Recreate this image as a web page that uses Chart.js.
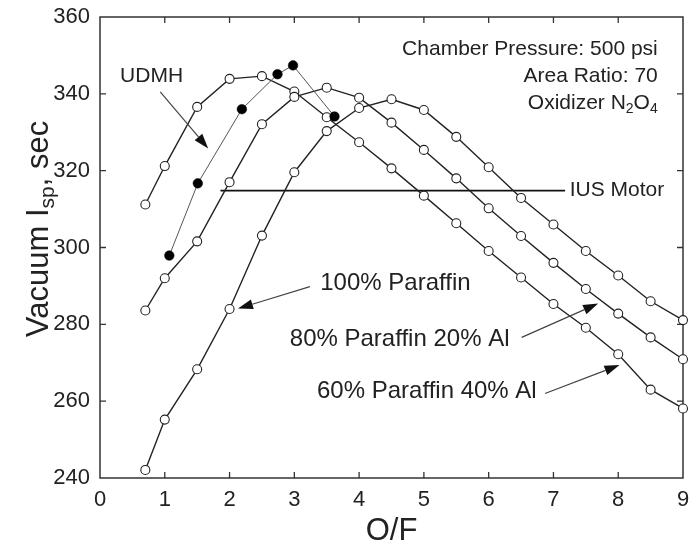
<!DOCTYPE html>
<html>
<head>
<meta charset="utf-8">
<script src="https://cdn.jsdelivr.net/npm/chart.js@4.4.1/dist/chart.umd.min.js"></script>
<style>
  html, body { margin: 0; padding: 0; background: #fff; }
  #wrap { width: 689px; height: 545px; }
</style>
</head>
<body>
<div id="wrap"><canvas id="c" width="689" height="545"></canvas></div>
<script>
// ---------------- data ----------------
const ofParaffin = [0.7, 1, 1.5, 2, 2.5, 3, 3.5, 4, 4.5, 5, 5.5, 6, 6.5, 7, 7.5, 8, 8.5, 9];
const isp100Paraffin = [242.1, 255.2, 268.3, 284.0, 303.1, 319.6, 330.3, 336.3, 338.6, 335.8, 328.8, 320.9, 312.9, 306.0, 299.1, 292.7, 286.0, 281.1];
const isp80Paraffin20Al = [283.6, 292.0, 301.6, 317.0, 332.1, 339.2, 341.6, 339.0, 332.5, 325.4, 318.0, 310.2, 303.0, 296.0, 289.2, 282.8, 276.6, 270.9];
const isp60Paraffin40Al = [311.2, 321.2, 336.6, 343.9, 344.6, 340.6, 333.9, 327.4, 320.6, 313.5, 306.3, 299.1, 292.2, 285.3, 279.1, 272.2, 263.0, 258.1];
const ofUDMH = [1.07, 1.51, 2.19, 2.74, 2.98, 3.62];
const ispUDMH = [297.9, 316.7, 336.0, 345.1, 347.4, 334.1];
const iusMotorIsp = 314.8;
const iusMotorRange = [1.86, 7.18];
const xTicks = [0, 1, 2, 3, 4, 5, 6, 7, 8, 9];
const yTicks = [240, 260, 280, 300, 320, 340, 360];

const FONT = "'Liberation Sans', Arial, Helvetica, sans-serif";
const INK = '#222';

function pts(xs, ys) { return xs.map((x, i) => ({ x: x, y: ys[i] })); }

const openPoint = {
  pointRadius: 4.5, pointBackgroundColor: '#fff', pointBorderColor: INK, pointBorderWidth: 1.1,
  borderColor: INK, borderWidth: 1.4, tension: 0, fill: false, clip: false
};

// ---------------- decoration plugin ----------------
function arrow(ctx, x1, y1, x2, y2) {
  const ang = Math.atan2(y2 - y1, x2 - x1);
  const L = 15, W = 5;
  const bx = x2 - L * Math.cos(ang), by = y2 - L * Math.sin(ang);
  ctx.save();
  ctx.strokeStyle = '#444'; ctx.lineWidth = 1.2;
  ctx.beginPath(); ctx.moveTo(x1, y1); ctx.lineTo(bx, by); ctx.stroke();
  ctx.fillStyle = '#111';
  ctx.beginPath();
  ctx.moveTo(x2, y2);
  ctx.lineTo(bx + W * Math.sin(ang), by - W * Math.cos(ang));
  ctx.lineTo(bx - W * Math.sin(ang), by + W * Math.cos(ang));
  ctx.closePath(); ctx.fill();
  ctx.restore();
}

const frame = {
  id: 'frame',
  beforeDatasetsDraw(chart) {
    const { ctx, chartArea: a, scales: { x, y } } = chart;
    ctx.save();
    ctx.strokeStyle = '#333'; ctx.lineWidth = 1.5;
    ctx.strokeRect(a.left, a.top, a.right - a.left, a.bottom - a.top);
    ctx.lineWidth = 1.3;
    const tl = 6;
    ctx.beginPath();
    xTicks.slice(1, -1).forEach(v => {
      const px = x.getPixelForValue(v);
      ctx.moveTo(px, a.bottom); ctx.lineTo(px, a.bottom - tl);
      ctx.moveTo(px, a.top); ctx.lineTo(px, a.top + tl);
    });
    yTicks.slice(1, -1).forEach(v => {
      const py = y.getPixelForValue(v);
      ctx.moveTo(a.left, py); ctx.lineTo(a.left + tl, py);
      ctx.moveTo(a.right, py); ctx.lineTo(a.right - tl, py);
    });
    ctx.stroke();
    ctx.restore();
  },
  afterDraw(chart) {
    const { ctx, scales: { x, y } } = chart;
    const X = v => x.getPixelForValue(v), Y = v => y.getPixelForValue(v);
    ctx.save();
    ctx.fillStyle = INK;
    ctx.textBaseline = 'middle';

    // top-right notes
    ctx.font = `21px ${FONT}`;
    ctx.textAlign = 'right';
    ctx.fillText('Chamber Pressure: 500 psi', X(8.61), Y(351.7));
    ctx.fillText('Area Ratio: 70', X(8.61), Y(344.6));
    // Oxidizer N2O4 with subscripts
    {
      const rx = X(8.61), cy = Y(337.6);
      ctx.textAlign = 'left';
      const parts = [['Oxidizer N', 21, 0], ['2', 14, 6], ['O', 21, 0], ['4', 14, 6]];
      let w = 0;
      parts.forEach(p => { ctx.font = `${p[1]}px ${FONT}`; w += ctx.measureText(p[0]).width; });
      let cx = rx - w;
      parts.forEach(p => { ctx.font = `${p[1]}px ${FONT}`; ctx.fillText(p[0], cx, cy + p[2]); cx += ctx.measureText(p[0]).width; });
    }

    // UDMH
    ctx.textAlign = 'left';
    ctx.font = `21px ${FONT}`;
    ctx.fillText('UDMH', X(0.31), Y(344.6));
    arrow(ctx, X(0.93), Y(340.5), X(1.67), Y(325.8));

    // IUS Motor
    ctx.fillText('IUS Motor', X(7.25), Y(iusMotorIsp));

    // paraffin labels
    ctx.font = `24px ${FONT}`;
    ctx.fillText('100% Paraffin', X(3.40), Y(290.7));
    arrow(ctx, X(3.24), Y(289.8), X(2.13), Y(284.1));
    ctx.fillText('80% Paraffin 20% Al', X(2.93), Y(276.0));
    arrow(ctx, X(6.51), Y(276.6), X(7.69), Y(285.4));
    ctx.fillText('60% Paraffin 40% Al', X(3.35), Y(262.5));
    arrow(ctx, X(6.87), Y(262.0), X(8.02), Y(269.4));

    // x title
    ctx.textAlign = 'center';
    ctx.font = `31px ${FONT}`;
    ctx.fillText('O/F', (x.left + x.right) / 2, 531);

    // y title with subscript
    ctx.save();
    ctx.translate(39, 229);
    ctx.rotate(-Math.PI / 2);
    const yp = [['Vacuum I', 31, 0], ['sp', 21, 9], [', sec', 31, 0]];
    let tw = 0;
    yp.forEach(p => { ctx.font = `${p[1]}px ${FONT}`; tw += ctx.measureText(p[0]).width; });
    let sx = -tw / 2;
    ctx.textAlign = 'left';
    yp.forEach(p => { ctx.font = `${p[1]}px ${FONT}`; ctx.fillText(p[0], sx, p[2]); sx += ctx.measureText(p[0]).width; });
    ctx.restore();

    ctx.restore();
  }
};

// ---------------- chart ----------------
new Chart(document.getElementById('c'), {
  type: 'line',
  data: {
    datasets: [
      { label: 'UDMH', data: pts(ofUDMH, ispUDMH), borderColor: '#555', borderWidth: 1, tension: 0,
        pointRadius: 4.8, pointBackgroundColor: '#000', pointBorderColor: '#000', pointBorderWidth: 0.5, clip: false },
      Object.assign({ label: '100% Paraffin', data: pts(ofParaffin, isp100Paraffin) }, openPoint),
      Object.assign({ label: '80% Paraffin 20% Al', data: pts(ofParaffin, isp80Paraffin20Al) }, openPoint),
      Object.assign({ label: '60% Paraffin 40% Al', data: pts(ofParaffin, isp60Paraffin40Al) }, openPoint),
      { label: 'IUS Motor', data: pts(iusMotorRange, [iusMotorIsp, iusMotorIsp]), borderColor: '#111', borderWidth: 1.6,
        pointRadius: 0, tension: 0 }
    ]
  },
  options: {
    responsive: false,
    animation: false,
    events: [],
    layout: { padding: { top: 17, right: 6, left: 0, bottom: 0 } },
    plugins: { legend: { display: false }, tooltip: { enabled: false } },
    scales: {
      x: {
        type: 'linear', min: 0, max: 9,
        afterBuildTicks(s) { s.ticks = xTicks.map(v => ({ value: v })); },
        ticks: { font: { size: 22, family: FONT }, color: INK, padding: 9, maxRotation: 0 },
        grid: { display: false, drawTicks: false },
        border: { display: false },
        afterFit(s) { s.height = 67; s.paddingLeft = 0; s.paddingRight = 0; }
      },
      y: {
        type: 'linear', min: 240, max: 360,
        afterBuildTicks(s) { s.ticks = yTicks.map(v => ({ value: v })); },
        ticks: { font: { size: 22, family: FONT }, color: INK, padding: 10 },
        grid: { display: false, drawTicks: false },
        border: { display: false },
        afterFit(s) { s.width = 100; s.paddingTop = 0; s.paddingBottom = 0; }
      }
    }
  },
  plugins: [frame]
});
</script>
</body>
</html>
